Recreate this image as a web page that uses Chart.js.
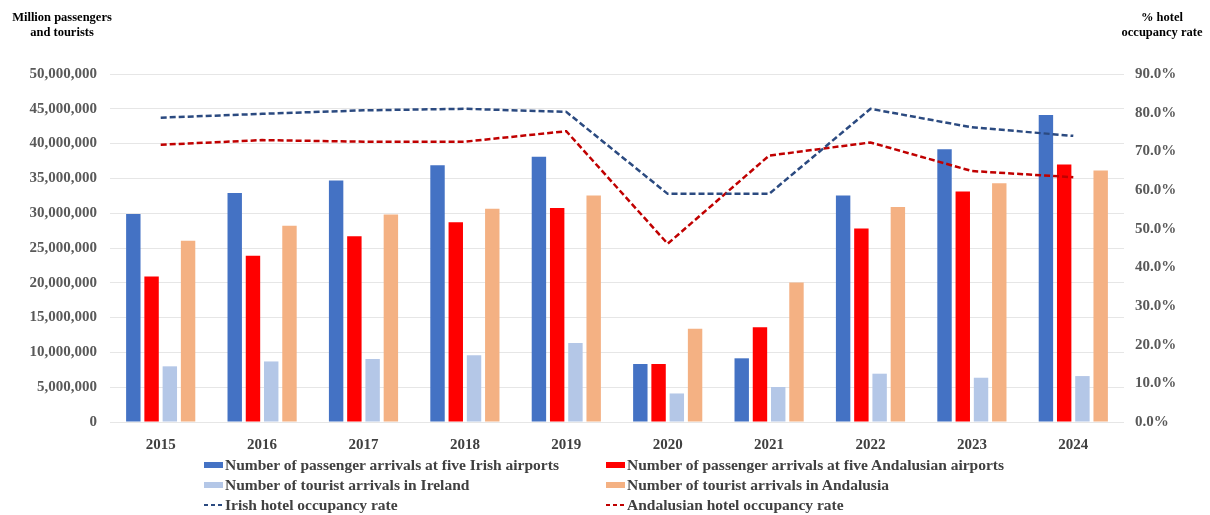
<!DOCTYPE html>
<html>
<head>
<meta charset="utf-8">
<script src="https://cdn.jsdelivr.net/npm/chart.js@4"></script>
<style>
  html, body { margin: 0; padding: 0; background: #fff; }
  #wrap { position: relative; width: 1210px; height: 515px; font-family: "Liberation Serif", "Times New Roman", serif; }
  #chart { position: absolute; left: 0; top: 0; }
  .axis-title { position: absolute; font-weight: bold; font-size: 12.5px; color: #000; text-align: center; line-height: 15px; }
  .leg { position: absolute; font-weight: bold; font-size: 15.5px; color: #404040; white-space: nowrap; line-height: 20px; }
  .leg i { display: inline-block; width: 19px; vertical-align: middle; margin-right: 2px; position: relative; top: -1px; }
</style>
</head>
<body>
<div id="wrap">
  <canvas id="chart" width="1210" height="515"></canvas>
  <div class="axis-title" style="left:5px; top:10px; width:114px;">Million passengers<br>and tourists</div>
  <div class="axis-title" style="left:1112px; top:10px; width:100px;">% hotel<br>occupancy rate</div>
  <div id="legend"></div>
</div>
<script>
  const years = ['2015', '2016', '2017', '2018', '2019', '2020', '2021', '2022', '2023', '2024'];

  // passenger / tourist counts
  const irishAirports = [29900000, 32900000, 34700000, 36900000, 38100000, 8330000, 9150000, 32550000, 39200000, 44100000];
  const andalusianAirports = [20900000, 23900000, 26700000, 28700000, 30750000, 8330000, 13600000, 27800000, 33100000, 37000000];
  const irelandTourists = [8000000, 8700000, 9050000, 9600000, 11350000, 4100000, 5030000, 6940000, 6360000, 6600000];
  const andalusiaTourists = [26050000, 28200000, 29800000, 30650000, 32550000, 13400000, 20060000, 30900000, 34300000, 36150000];

  // hotel occupancy, percent
  const irishOccupancy = [78.7, 79.7, 80.6, 81.0, 80.2, 59.0, 59.0, 81.0, 76.2, 74.0];
  const andalusianOccupancy = [71.7, 72.9, 72.5, 72.5, 75.2, 46.1, 68.9, 72.3, 64.9, 63.3];

  const labels = {
    irishAirports: 'Number of passenger arrivals at five Irish airports',
    andalusianAirports: 'Number of passenger arrivals at five Andalusian airports',
    irelandTourists: 'Number of tourist arrivals in Ireland',
    andalusiaTourists: 'Number of tourist arrivals in Andalusia',
    irishOcc: 'Irish hotel occupancy rate',
    andalusianOcc: 'Andalusian hotel occupancy rate'
  };

  const tickFont = { family: 'Liberation Serif', size: 15, weight: 'bold' };

  const barSet = (label, data, color) => ({
    type: 'bar', label, data, backgroundColor: color, borderWidth: 0,
    yAxisID: 'y', order: 2, categoryPercentage: 0.72, barPercentage: 0.79
  });
  const lineSet = (label, data, color) => ({
    type: 'line', label, data, borderColor: color, backgroundColor: color,
    borderWidth: 2.5, borderDash: [6, 3], pointRadius: 0, tension: 0,
    fill: false, yAxisID: 'y1', order: 0
  });

  new Chart(document.getElementById('chart').getContext('2d'), {
    data: {
      labels: years,
      datasets: [
        barSet(labels.irishAirports, irishAirports, '#4472C4'),
        barSet(labels.andalusianAirports, andalusianAirports, '#FF0000'),
        barSet(labels.irelandTourists, irelandTourists, '#B4C7E7'),
        barSet(labels.andalusiaTourists, andalusiaTourists, '#F4B183'),
        lineSet(labels.irishOcc, irishOccupancy, '#2B4A80'),
        lineSet(labels.andalusianOcc, andalusianOccupancy, '#C00000')
      ]
    },
    options: {
      responsive: false,
      animation: false,
      layout: { padding: { top: 74, bottom: 63, left: 0, right: 0 } },
      plugins: { legend: { display: false }, tooltip: { enabled: false } },
      scales: {
        x: {
          grid: { display: false },
          border: { display: false },
          ticks: { font: tickFont, color: '#404040', padding: 6 },
          afterFit: s => { s.height = 30; }
        },
        y: {
          position: 'left',
          min: 0, max: 50000000,
          grid: { color: '#E6E6E6', drawTicks: false },
          border: { display: false },
          ticks: {
            stepSize: 5000000, font: tickFont, color: '#595959', padding: 13,
            callback: v => v.toLocaleString('en-US')
          },
          afterFit: s => { s.width = 110; }
        },
        y1: {
          position: 'right',
          min: 0, max: 90,
          grid: { drawOnChartArea: false, drawTicks: false },
          border: { display: false },
          ticks: {
            stepSize: 10, font: tickFont, color: '#595959', padding: 11,
            callback: v => v.toFixed(1) + '%'
          },
          afterFit: s => { s.width = 86; }
        }
      }
    }
  });

  // legend, two columns x three rows
  const legendItems = [
    { text: labels.irishAirports, color: '#4472C4', dash: false, x: 204, y: 455 },
    { text: labels.andalusianAirports, color: '#FF0000', dash: false, x: 606, y: 455 },
    { text: labels.irelandTourists, color: '#B4C7E7', dash: false, x: 204, y: 475 },
    { text: labels.andalusiaTourists, color: '#F4B183', dash: false, x: 606, y: 475 },
    { text: labels.irishOcc, color: '#2B4A80', dash: true, x: 204, y: 495 },
    { text: labels.andalusianOcc, color: '#C00000', dash: true, x: 606, y: 495 }
  ];
  const legendDiv = document.getElementById('legend');
  legendItems.forEach(item => {
    const el = document.createElement('div');
    el.className = 'leg';
    el.style.left = item.x + 'px';
    el.style.top = item.y + 'px';
    const icon = document.createElement('i');
    if (item.dash) {
      icon.style.height = '2px';
      icon.style.background = `repeating-linear-gradient(90deg, ${item.color} 0 4px, transparent 4px 7px)`;
    } else {
      icon.style.height = '6px';
      icon.style.background = item.color;
    }
    el.appendChild(icon);
    el.appendChild(document.createTextNode(item.text));
    legendDiv.appendChild(el);
  });
</script>
</body>
</html>
